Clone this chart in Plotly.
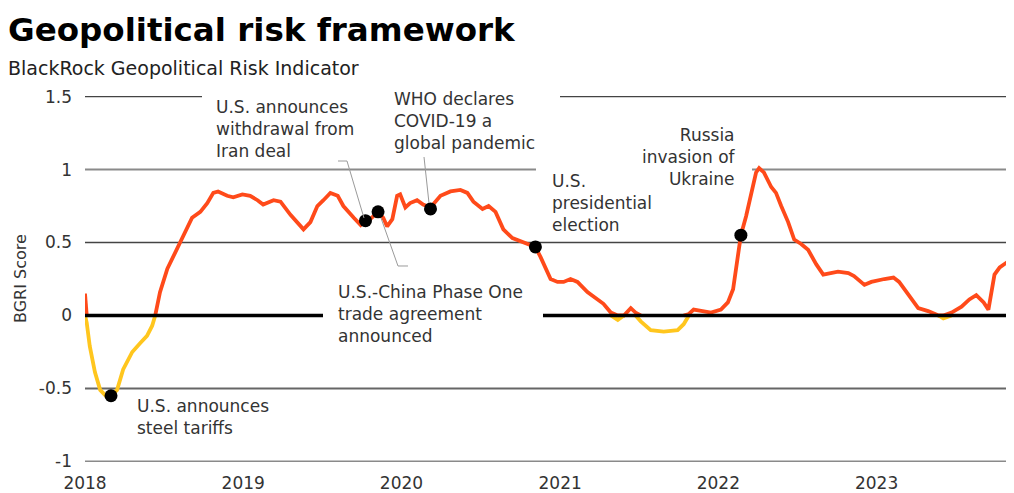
import plotly.graph_objects as go

# ---- data ----
dates = [
    "2018-01-01", "2018-01-05", "2018-01-12", "2018-01-24", "2018-02-05", "2018-02-21",
    "2018-03-02", "2018-03-16", "2018-03-30", "2018-04-20", "2018-05-08", "2018-05-24",
    "2018-06-05", "2018-06-12", "2018-06-23", "2018-07-10", "2018-07-23", "2018-08-09",
    "2018-08-25", "2018-09-05", "2018-09-24", "2018-10-10", "2018-10-24", "2018-11-04",
    "2018-11-25", "2018-12-09", "2018-12-30", "2019-01-17", "2019-02-03", "2019-02-16",
    "2019-03-12", "2019-03-28", "2019-04-20", "2019-05-20", "2019-06-05", "2019-06-21",
    "2019-07-05", "2019-07-21", "2019-08-07", "2019-08-20", "2019-09-13", "2019-09-29",
    "2019-10-10", "2019-10-21", "2019-11-08", "2019-11-20", "2019-11-29", "2019-12-11",
    "2019-12-22", "2019-12-29", "2020-01-10", "2020-01-21", "2020-02-06", "2020-02-20",
    "2020-03-08", "2020-03-31", "2020-04-23", "2020-05-16", "2020-06-01", "2020-06-15",
    "2020-07-06", "2020-07-20", "2020-08-05", "2020-08-23", "2020-09-13", "2020-10-02",
    "2020-10-18", "2020-11-05", "2020-11-17", "2020-11-28", "2020-12-10", "2020-12-26",
    "2021-01-09", "2021-01-25", "2021-02-10", "2021-03-05", "2021-03-29", "2021-04-11",
    "2021-04-28", "2021-05-14", "2021-05-28", "2021-06-13", "2021-06-24", "2021-07-06",
    "2021-07-29", "2021-08-28", "2021-09-29", "2021-10-13", "2021-10-25", "2021-11-05",
    "2021-11-22", "2021-12-15", "2022-01-07", "2022-01-23", "2022-02-04", "2022-02-11",
    "2022-02-22", "2022-03-06", "2022-03-17", "2022-03-29", "2022-04-05", "2022-04-16",
    "2022-05-03", "2022-05-14", "2022-05-26", "2022-06-11", "2022-06-25", "2022-07-11",
    "2022-07-27", "2022-08-15", "2022-08-31", "2022-09-14", "2022-10-04", "2022-10-28",
    "2022-11-10", "2022-12-04", "2022-12-20", "2023-01-19", "2023-02-09", "2023-02-22",
    "2023-03-15", "2023-04-07", "2023-04-30", "2023-05-24", "2023-06-04", "2023-06-23",
    "2023-07-16", "2023-08-03", "2023-08-19", "2023-09-05", "2023-09-16", "2023-09-30",
    "2023-10-12", "2023-11-01", "2023-11-15",
]
bgri = [
    0.15, -0.05, -0.21, -0.39, -0.51, -0.56,
    -0.55, -0.51, -0.37, -0.25, -0.19, -0.14,
    -0.07, 0.00, 0.16, 0.32, 0.40, 0.50,
    0.61, 0.67, 0.71, 0.77, 0.84, 0.85,
    0.82, 0.81, 0.83, 0.82, 0.79, 0.76,
    0.79, 0.78, 0.69, 0.59, 0.64, 0.75,
    0.79, 0.84, 0.82, 0.75, 0.67, 0.62,
    0.65, 0.66, 0.71, 0.67, 0.61, 0.66,
    0.82, 0.83, 0.74, 0.77, 0.79, 0.76,
    0.74, 0.82, 0.85, 0.86, 0.84, 0.78,
    0.73, 0.75, 0.71, 0.59, 0.53, 0.51,
    0.49, 0.47, 0.40, 0.32, 0.25, 0.23,
    0.23, 0.25, 0.23, 0.16, 0.11, 0.08,
    0.02, -0.03, 0.00, 0.05, 0.02, -0.04,
    -0.10, -0.11, -0.10, -0.06, 0.01, 0.04,
    0.03, 0.02, 0.04, 0.09, 0.18, 0.34,
    0.55, 0.68, 0.82, 0.98, 1.01, 0.98,
    0.88, 0.84, 0.75, 0.64, 0.52, 0.49,
    0.45, 0.35, 0.28, 0.29, 0.30, 0.29,
    0.27, 0.21, 0.23, 0.25, 0.26, 0.23,
    0.14, 0.05, 0.03, 0.00, -0.02, 0.02,
    0.06, 0.11, 0.14, 0.09, 0.04, 0.28,
    0.33, 0.37, 0.41,
]

event_dates = ["2018-03-02", "2019-10-10", "2019-11-08", "2020-03-08", "2020-11-05", "2022-02-22"]
event_values = [-0.55, 0.65, 0.71, 0.73, 0.47, 0.55]

year_ticks = ["2018-01-01", "2019-01-01", "2020-01-01", "2021-01-01", "2022-01-01", "2023-01-01"]
year_labels = ["2018", "2019", "2020", "2021", "2022", "2023"]
y_ticks = [-1, -0.5, 0, 0.5, 1, 1.5]
y_labels = ["-1", "-0.5", "0", "0.5", "1", "1.5"]

ORANGE = "#FF4A1A"
YELLOW = "#FFC61E"
TEXT = "#333333"
FONT = "DejaVu Sans"

# ---- layout geometry (the page body adds an 8px offset) ----
OFF = 8
W, H = 1014 - OFF, 493 - OFF
L, R, T, B = 77, 0, 88, 31
PX0, PY0 = OFF + L, OFF + T          # plot-area top-left in screen pixels
PW, PH = W - L - R, H - T - B


def px(x):
    return (x - PX0) / PW


def py(y):
    return (PY0 + PH - y) / PH


# split the series by sign; keep each part only around its own region
n = len(bgri)
pos, neg = [], []
for i, v in enumerate(bgri):
    nb = [bgri[j] for j in (i - 1, i, i + 1) if 0 <= j < n]
    pos.append(max(v, 0) if any(u > 0 for u in nb) else None)
    neg.append(min(v, 0) if any(u < 0 for u in nb) else None)

fig = go.Figure()
fig.add_trace(go.Scatter(x=dates, y=pos, mode="lines", line=dict(color=ORANGE, width=3.8),
                         connectgaps=False, hoverinfo="skip", showlegend=False))
fig.add_trace(go.Scatter(x=dates, y=neg, mode="lines", line=dict(color=YELLOW, width=3.8),
                         connectgaps=False, hoverinfo="skip", showlegend=False))
fig.add_trace(go.Scatter(x=event_dates, y=event_values, mode="markers",
                         marker=dict(color="black", size=13), showlegend=False))

shapes = []
# grid lines (with gaps where annotation text sits)
grid_segments = [
    (1.5, [(0, px(202)), (px(560), 1)], "#444444", 1.3),
    (1.0, [(0, px(536)), (px(752), 1)], "#8a8a8a", 2),
    (0.5, [(0, 1)], "#444444", 1.3),
    (-0.5, [(0, 1)], "#666666", 2),
    (-1.0, [(0, 1)], "#8a8a8a", 2),
]
for yv, segs, col, w in grid_segments:
    for a, b in segs:
        shapes.append(dict(type="line", xref="paper", yref="y", x0=a, x1=b, y0=yv, y1=yv,
                           line=dict(color=col, width=w), layer="below"))
# zero line, thick black, above the series
for a, b in [(0, px(323)), (px(543), 1)]:
    shapes.append(dict(type="line", xref="paper", yref="y", x0=a, x1=b, y0=0, y1=0,
                       line=dict(color="black", width=3.5), layer="above"))

# leader lines
leaders = [
    [(338, 161), (347, 161), (364, 218)],
    [(381, 218), (398, 266), (408, 266)],
    [(424, 157), (429, 203)],
]
for pts in leaders:
    path = "M " + " L ".join(f"{px(x):.5f},{py(y):.5f}" for x, y in pts)
    shapes.append(dict(type="path", xref="paper", yref="paper", path=path,
                       line=dict(color="#9a9a9a", width=1), layer="above"))

annotations = []


def note(text, x, y, xanchor="left", align="left", size=17, color=TEXT, angle=0):
    annotations.append(dict(
        text=text, x=px(x), y=py(y), xref="paper", yref="paper",
        xanchor=xanchor, yanchor="middle", align=align, showarrow=False,
        textangle=angle, borderpad=0,
        font=dict(family=FONT, size=size, color=color),
    ))


note("<b>Geopolitical risk framework</b>", 7, 30, size=32.5, color="black")
note("BlackRock Geopolitical Risk Indicator", 7, 68, size=19, color="#222222")
note("BGRI Score", 20, 279, xanchor="center", align="center", size=16, angle=-90)

note("U.S. announces<br>withdrawal from<br>Iran deal", 215, 129)
note("WHO declares<br>COVID-19 a<br>global pandemic", 393, 121)
note("U.S.<br>presidential<br>election", 551, 203)
note("Russia<br>invasion of<br>Ukraine", 737, 157, xanchor="right", align="right")
note("U.S.-China Phase One<br>trade agreement<br>announced", 337, 314)
note("U.S. announces<br>steel tariffs", 136, 417)

fig.update_layout(
    width=W, height=H,
    margin=dict(l=L, r=R, t=T, b=B, pad=0),
    paper_bgcolor="white", plot_bgcolor="white",
    shapes=shapes, annotations=annotations,
    showlegend=False,
    font=dict(family=FONT, size=17, color=TEXT),
    xaxis=dict(type="date", range=["2018-01-01", "2023-11-14"],
               tickvals=year_ticks, ticktext=year_labels,
               showgrid=False, zeroline=False, showline=False, ticks="",
               ticklabelstandoff=9, tickfont=dict(family=FONT, size=17, color=TEXT)),
    yaxis=dict(range=[-1.004, 1.504], tickvals=y_ticks, ticktext=y_labels,
               showgrid=False, zeroline=False, showline=False, ticks="",
               ticklabelstandoff=12, tickfont=dict(family=FONT, size=17, color=TEXT)),
)

fig.write_html("out.html")
